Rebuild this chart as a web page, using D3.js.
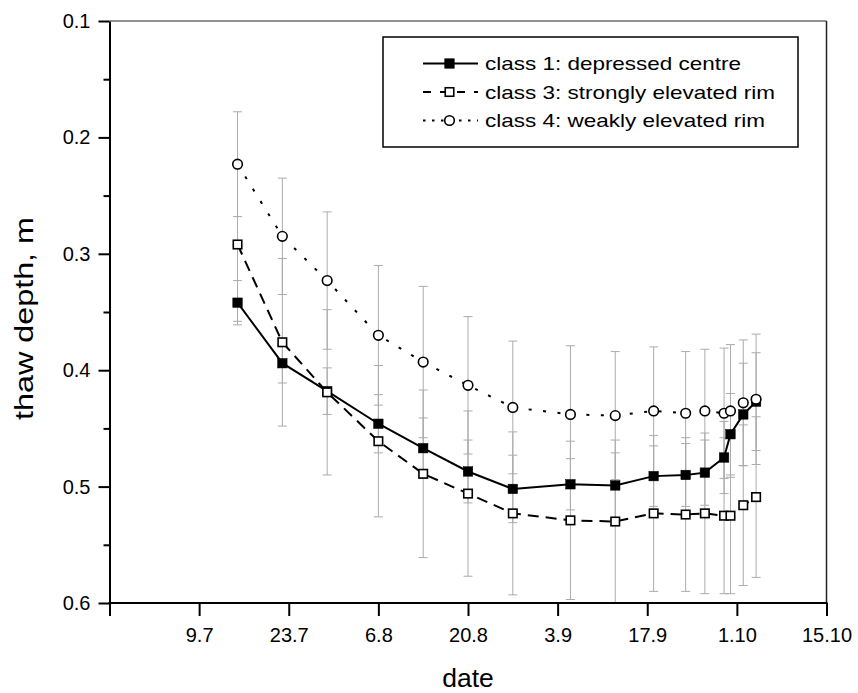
<!DOCTYPE html>
<html><head><meta charset="utf-8">
<script src="https://cdn.jsdelivr.net/npm/d3@7"></script>
<style>body{margin:0;background:#fff} svg{display:block} text{font-family:"Liberation Sans",Arial,sans-serif;fill:#000}</style>
</head><body>
<svg id="chart" width="858" height="693"></svg>
<script>
// ---- data ----
const dates = ["15.7","22.7","29.7","6.8","13.8","20.8","27.8","5.9","12.9","18.9","23.9","26.9","29.9","30.9","2.10","4.10"];
const class1    = [0.342,0.394,0.418,0.446,0.467,0.487,0.502,0.498,0.499,0.491,0.490,0.488,0.475,0.455,0.438,0.427];
const class1Err = [0.019,0.017,0.020,0.025,0.026,0.027,0.029,0.022,0.028,0.026,0.027,0.028,0.031,0.035,0.044,0.042];
const class3    = [0.292,0.376,0.419,0.461,0.489,0.506,0.523,0.529,0.530,0.523,0.524,0.523,0.525,0.525,0.516,0.509];
const class3Err = [0.066,0.072,0.071,0.065,0.072,0.071,0.070,0.068,0.070,0.067,0.066,0.069,0.067,0.067,0.069,0.069];
const class4    = [0.223,0.285,0.323,0.370,0.393,0.413,0.432,0.438,0.439,0.435,0.437,0.435,0.437,0.435,0.428,0.425];
const class4Err = [0.045,0.050,0.059,0.060,0.065,0.059,0.057,0.059,0.055,0.055,0.053,0.053,0.056,0.057,0.054,0.056];
const seriesNames = ["class 1: depressed centre","class 3: strongly elevated rim","class 4: weakly elevated rim"];
const xTickLabels = ["25.6","9.7","23.7","6.8","20.8","3.9","17.9","1.10","15.10"];
const yMajorTicks = [0.1,0.2,0.3,0.4,0.5,0.6];
const yMinorTicks = [0.15,0.25,0.35,0.45,0.55];

// ---- setup ----
const svg = d3.select("#chart");
const parse = d3.timeParse("%d.%m");
const fmt = d3.timeFormat("%-d.%-m");
const L = 109.5, R = 826.5, T = 21, B = 603;
const x = d3.scaleTime().domain([parse("25.6"), parse("15.10")]).range([L, R]);
const y = d3.scaleLinear().domain([0.1, 0.6]).range([T, B]);
const xd = dates.map(parse);

const series = [
  {name: seriesNames[0], v: class1, e: class1Err, dash: null, shape: "fsq", legendDash: null},
  {name: seriesNames[1], v: class3, e: class3Err, dash: "11,7", shape: "osq", legendDash: "8,9"},
  {name: seriesNames[2], v: class4, e: class4Err, dash: "3,11.5", shape: "circ", legendDash: "2.5,6.5"}
];

// frame top/right
svg.append("line").attr("x1", L).attr("x2", R).attr("y1", T).attr("y2", T).attr("stroke", "#222").attr("stroke-width", 1);
svg.append("line").attr("x1", R).attr("x2", R).attr("y1", T).attr("y2", B).attr("stroke", "#222").attr("stroke-width", 1.5);

// error bars
const eg = svg.append("g").attr("stroke", "#ababab").attr("stroke-width", 1);
series.forEach(s => {
  s.v.forEach((v, i) => {
    const cx = x(xd[i]);
    const y0 = y(v - s.e[i]), y1 = y(Math.min(0.6, v + s.e[i]));
    eg.append("line").attr("x1", cx).attr("x2", cx).attr("y1", y0).attr("y2", y1);
    [y0, y1].forEach(yy => eg.append("line").attr("x1", cx - 4.5).attr("x2", cx + 4.5).attr("y1", yy).attr("y2", yy));
  });
});

// axes
const xAxis = d3.axisBottom(x).tickValues(xTickLabels.map(parse))
  .tickFormat((d, i) => i === 0 ? "" : xTickLabels[i]).tickSize(13).tickSizeOuter(0).tickPadding(12);
const gx = svg.append("g").attr("transform", `translate(0,${B})`).call(xAxis);
gx.select(".domain").attr("stroke-width", 2).attr("d", `M${L-1},0H${R+1}`);
gx.selectAll(".tick line").attr("stroke-width", 2);
gx.selectAll("text").style("font-size", "20px").style("font-family", '"Liberation Sans",Arial,sans-serif');

const yAxis = d3.axisLeft(y).tickValues(yMajorTicks).tickFormat(d3.format(".1f")).tickSize(11).tickSizeOuter(0).tickPadding(8);
const gy = svg.append("g").attr("transform", `translate(${L},0)`).call(yAxis);
gy.select(".domain").attr("stroke-width", 2);
gy.selectAll(".tick line").attr("stroke-width", 2);
gy.selectAll("text").style("font-size", "20px").style("font-family", '"Liberation Sans",Arial,sans-serif');
const yMinor = d3.axisLeft(y).tickValues(yMinorTicks).tickFormat("").tickSize(6).tickSizeOuter(0);
const gym = svg.append("g").attr("transform", `translate(${L},0)`).call(yMinor);
gym.select(".domain").remove();
gym.selectAll(".tick line").attr("stroke-width", 2);

// lines
series.forEach(s => {
  const line = d3.line().x((d, i) => x(xd[i])).y(d => y(d));
  svg.append("path").datum(s.v).attr("d", line).attr("fill", "none")
    .attr("stroke", "#000").attr("stroke-width", 2).attr("stroke-dasharray", s.dash);
});

// markers
function marker(g, shape, cx, cy) {
  if (shape === "circ") {
    g.append("circle").attr("cx", cx).attr("cy", cy).attr("r", 4.8).attr("fill", "#fff").attr("stroke", "#000").attr("stroke-width", 1.6);
  } else {
    const s = shape === "fsq" ? 9.5 : 8.5;
    g.append("rect").attr("x", cx - s/2).attr("y", cy - s/2).attr("width", s).attr("height", s)
      .attr("fill", shape === "fsq" ? "#000" : "#fff").attr("stroke", "#000").attr("stroke-width", shape === "fsq" ? 0.5 : 1.6);
  }
}
const mg = svg.append("g");
series.forEach(s => s.v.forEach((v, i) => marker(mg, s.shape, x(xd[i]), y(v))));

// legend
const lg = svg.append("g");
lg.append("rect").attr("x", 383).attr("y", 37).attr("width", 415).attr("height", 110)
  .attr("fill", "#fff").attr("stroke", "#000").attr("stroke-width", 1.5);
const legendWidths = [256, 290, 280];
series.forEach((s, i) => {
  const ly = 63.5 + i * 28.5;
  lg.append("line").attr("x1", 423).attr("x2", 478).attr("y1", ly).attr("y2", ly)
    .attr("stroke", "#000").attr("stroke-width", 2).attr("stroke-dasharray", s.legendDash);
  marker(lg, s.shape, 449.5, ly);
  lg.append("text").attr("x", 485).attr("y", ly + 6.5).text(s.name)
    .style("font-size", "18.5px").attr("textLength", legendWidths[i]).attr("lengthAdjust", "spacingAndGlyphs");
});

// axis titles
svg.append("text").attr("x", 468).attr("y", 687).attr("text-anchor", "middle").style("font-size", "26.5px").text("date");
svg.append("text").attr("transform", "translate(33,318.5) rotate(-90)").attr("text-anchor", "middle")
  .style("font-size", "25px").attr("textLength", 203).attr("lengthAdjust", "spacingAndGlyphs").text("thaw depth, m");
</script>
</body></html>
